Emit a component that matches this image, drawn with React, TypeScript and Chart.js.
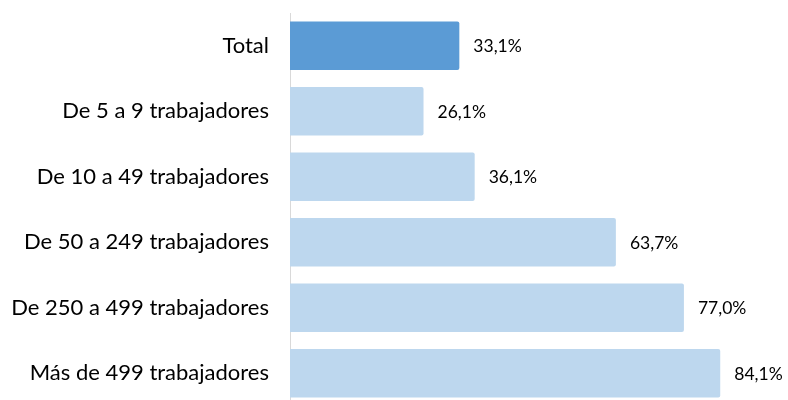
import React, { useEffect, useRef } from "react";
import { Chart, registerables } from "chart.js";

Chart.register(...registerables);

const categories = [
  "Total",
  "De 5 a 9 trabajadores",
  "De 10 a 49 trabajadores",
  "De 50 a 249 trabajadores",
  "De 250 a 499 trabajadores",
  "Más de 499 trabajadores",
];
const values = [33.1, 26.1, 36.1, 63.7, 77.0, 84.1];
const barColors = ["#5B9BD5", "#BDD7EE", "#BDD7EE", "#BDD7EE", "#BDD7EE", "#BDD7EE"];

const FONT = "Lato, 'Open Sans', sans-serif";

const valueLabels = {
  id: "valueLabels",
  afterDatasetsDraw(chart: any) {
    const ctx = chart.ctx;
    const meta = chart.getDatasetMeta(0);
    ctx.save();
    ctx.font = `17.5px ${FONT}`;
    ctx.fillStyle = "#000000";
    ctx.textAlign = "left";
    ctx.textBaseline = "middle";
    meta.data.forEach((bar: any, i: number) => {
      const txt = values[i].toFixed(1).replace(".", ",") + "%";
      ctx.fillText(txt, bar.x + 14, bar.y + 1);
    });
    ctx.restore();
  },
};

export default function App() {
  const ref = useRef<HTMLCanvasElement>(null);
  useEffect(() => {
    const chart = new Chart(ref.current!, {
      type: "bar",
      data: {
        labels: categories,
        datasets: [
          {
            data: values,
            backgroundColor: barColors,
            borderRadius: 2,
            borderSkipped: "start",
            categoryPercentage: 1,
            barPercentage: 0.74,
          },
        ],
      },
      options: {
        indexAxis: "y",
        animation: false,
        responsive: false,
        maintainAspectRatio: false,
        layout: { padding: { top: 13, right: 12, bottom: 0, left: 0 } },
        plugins: { legend: { display: false }, tooltip: { enabled: false } },
        scales: {
          x: { display: false, min: 0, max: 95 },
          y: {
            grid: { display: false, drawTicks: false },
            border: { display: true, color: "#D9D9D9", width: 1 },
            ticks: {
              color: "#000000",
              font: { family: FONT, size: 22 },
              padding: 21,
            },
            afterFit(scale: any) {
              scale.width = 290;
              scale.paddingTop = 0;
              scale.paddingBottom = 0;
            },
          },
        },
      },
      plugins: [valueLabels],
    });
    return () => chart.destroy();
  }, []);
  return (
    <div style={{ position: "fixed", left: 0, top: 0, width: 788, height: 406, background: "#fff" }}>
      <canvas ref={ref} width={788} height={406} />
    </div>
  );
}
